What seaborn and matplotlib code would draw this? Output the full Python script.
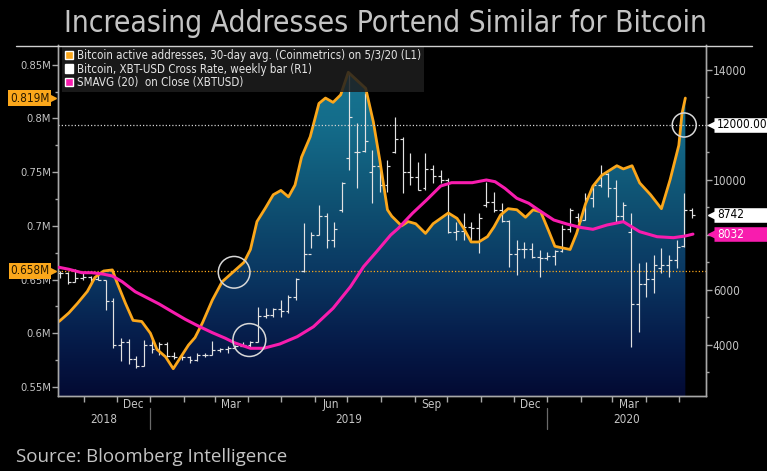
# plot.py
# Bloomberg style chart - active addresses vs bitcoin price (weekly bars)

import numpy as np
import pandas as pd
import seaborn as sns
import matplotlib
matplotlib.use("Agg")
import matplotlib.pyplot as plt
import matplotlib.dates as mdates
import matplotlib.transforms as mtransforms
from matplotlib.colors import LinearSegmentedColormap
from matplotlib.patches import Patch
from matplotlib.lines import Line2D
from matplotlib.ticker import FixedLocator, NullFormatter
from matplotlib import font_manager

# ---- data ----
# bitcoin active addresses, 30 day avg (millions), left axis
addr_dates = ["2018-10-09", "2018-10-18", "2018-10-26", "2018-11-04", "2018-11-11", "2018-11-19",
              "2018-11-27", "2018-12-01", "2018-12-09", "2018-12-16", "2018-12-24", "2019-01-01",
              "2019-01-07", "2019-01-15", "2019-01-22", "2019-01-29", "2019-02-05", "2019-02-11",
              "2019-02-18", "2019-02-27", "2019-03-08", "2019-03-18", "2019-03-28", "2019-04-03",
              "2019-04-09", "2019-04-17", "2019-04-24", "2019-05-01", "2019-05-08", "2019-05-14",
              "2019-05-20", "2019-05-28", "2019-06-05", "2019-06-11", "2019-06-18", "2019-06-25",
              "2019-07-02", "2019-07-18", "2019-07-25", "2019-07-31", "2019-08-07", "2019-08-11",
              "2019-08-20", "2019-08-26", "2019-09-02", "2019-09-11", "2019-09-18", "2019-10-02",
              "2019-10-10", "2019-10-16", "2019-10-23", "2019-10-30", "2019-11-07", "2019-11-13",
              "2019-11-19", "2019-11-26", "2019-12-04", "2019-12-12", "2019-12-19", "2019-12-26",
              "2020-01-02", "2020-01-08", "2020-01-22", "2020-01-28", "2020-02-05", "2020-02-12",
              "2020-02-20", "2020-03-05", "2020-03-11", "2020-03-19", "2020-03-26", "2020-04-05",
              "2020-04-15", "2020-04-23", "2020-05-01", "2020-05-04", "2020-05-07"]
addr_values = [0.611, 0.619, 0.628, 0.639, 0.652, 0.658, 0.659, 0.648, 0.628, 0.612,
               0.611, 0.600, 0.585, 0.578, 0.567, 0.578, 0.589, 0.596, 0.610, 0.631,
               0.648, 0.657, 0.666, 0.678, 0.704, 0.717, 0.729, 0.733, 0.727, 0.738,
               0.764, 0.783, 0.814, 0.819, 0.815, 0.822, 0.843, 0.828, 0.797, 0.761,
               0.715, 0.709, 0.700, 0.704, 0.702, 0.693, 0.702, 0.712, 0.707, 0.698,
               0.685, 0.685, 0.690, 0.699, 0.710, 0.716, 0.715, 0.708, 0.715, 0.713,
               0.696, 0.681, 0.678, 0.693, 0.720, 0.737, 0.747, 0.756, 0.753, 0.756,
               0.740, 0.729, 0.716, 0.743, 0.775, 0.805, 0.819]

# SMAVG(20) on close, right axis
sma_dates = ["2018-10-09", "2018-10-18", "2018-10-30", "2018-11-08", "2018-11-18", "2018-11-27",
             "2018-12-06", "2018-12-18", "2018-12-27", "2019-01-09", "2019-01-21", "2019-02-02",
             "2019-02-14", "2019-02-27", "2019-03-11", "2019-03-19", "2019-04-03", "2019-04-15",
             "2019-04-30", "2019-05-16", "2019-05-31", "2019-06-18", "2019-07-04", "2019-07-16",
             "2019-07-28", "2019-08-10", "2019-08-17", "2019-08-30", "2019-09-12", "2019-09-25",
             "2019-10-05", "2019-10-24", "2019-11-06", "2019-11-14", "2019-11-23", "2019-12-04",
             "2019-12-15", "2019-12-24", "2020-01-07", "2020-01-19", "2020-01-31", "2020-02-12",
             "2020-02-25", "2020-03-11", "2020-03-26", "2020-04-11", "2020-04-26", "2020-05-07",
             "2020-05-14"]
sma_values = [6825, 6753, 6629, 6629, 6582, 6509, 6302, 5938, 5756, 5491, 5211, 4935,
              4691, 4447, 4244, 4084, 3880, 3880, 4036, 4302, 4665, 5335, 6120, 6847,
              7393, 8000, 8244, 8789, 9273, 9782, 9902, 9902, 10000, 9938, 9698, 9335,
              9153, 8909, 8545, 8400, 8280, 8207, 8364, 8484, 8120, 7938, 7902, 7964,
              8032]

# XBT-USD weekly bars, right axis (first bar week of 2018-10-10)
bar_first_week = "2018-10-10"
bar_open = [6600, 6620, 6300, 6450, 6460, 6400, 6350, 5600, 4000, 4100,
            3500, 3250, 4000, 3850, 4050, 3600, 3550, 3550, 3450, 3650,
            3650, 3800, 3850, 3900, 3980, 4000, 4100, 5050, 5100, 5300,
            5250, 5750, 6700, 7300, 8000, 8700, 7800, 8900, 10800, 11000,
            11050, 10300, 10500, 9800, 11000, 11500, 10300, 10100, 9700, 10400,
            10150, 10000, 8100, 8150, 8300, 8250, 9100, 9200, 8900, 8500,
            7300, 7500, 7500, 7200, 7150, 7250, 7400, 8200, 8650, 8550,
            9350, 9800, 10200, 9700, 8700, 8100, 5500, 6200, 6400, 6800,
            6900, 7100, 7600, 8900]
bar_high = [6680, 6660, 6750, 6600, 6500, 6570, 6360, 5700, 4250, 4200,
            3600, 4180, 4250, 4100, 4100, 3750, 3650, 3600, 3700, 3700,
            4150, 3900, 3950, 4000, 4100, 4150, 5390, 5350, 5350, 5640,
            5820, 6440, 8440, 8120, 9090, 8800, 8484, 9938, 13890, 12073,
            13163, 11090, 10727, 10727, 12300, 11575, 10980, 10665, 10970, 10545,
            10364, 10073, 8484, 8800, 8473, 8800, 9938, 9575, 9164, 8545,
            7818, 7756, 7700, 7455, 7393, 7455, 8364, 8982, 8800, 9527,
            9818, 10545, 10242, 10000, 9212, 8800, 6970, 7030, 7273, 7515,
            7273, 7818, 9527, 8982]
bar_low = [6450, 6200, 6300, 6380, 6250, 6360, 5270, 3900, 3400, 3300,
           3160, 3250, 3700, 3650, 3550, 3500, 3450, 3350, 3400, 3550,
           3650, 3750, 3700, 3850, 3950, 3900, 4100, 4980, 5000, 5030,
           5160, 5640, 6665, 7527, 8000, 7527, 7575, 8847, 10364, 9709,
           11030, 9164, 9575, 9575, 10970, 9516, 9818, 9636, 9636, 9890,
           9890, 8073, 7818, 7818, 7818, 7345, 9030, 8847, 8484, 6847,
           6545, 7164, 7150, 6480, 7090, 6909, 7393, 8120, 8484, 8545,
           9030, 9756, 9393, 8484, 8484, 3940, 4484, 5756, 5880, 6607,
           6484, 6790, 7575, 8618]
bar_close = [6620, 6300, 6450, 6460, 6400, 6350, 5600, 4000, 4100, 3500,
             3250, 4000, 3850, 4050, 3600, 3550, 3550, 3450, 3650, 3650,
             3800, 3850, 3900, 3980, 4000, 4100, 5050, 5100, 5300, 5250,
             5750, 6400, 7300, 8000, 8700, 7800, 8200, 9900, 12300, 11000,
             11400, 10500, 9800, 10500, 11500, 10300, 10100, 9650, 10400, 10150,
             10000, 8100, 8150, 8300, 8250, 8600, 9200, 8900, 8500, 7300,
             7500, 7500, 7200, 7150, 7250, 7400, 8200, 8900, 8500, 9350,
             9800, 10200, 9700, 8700, 9100, 5500, 6200, 6400, 6900, 6900,
             7100, 7550, 8900, 8742]

# circled spots and the reference lines
circle_dates = ["2019-03-19", "2019-04-02", "2020-05-06"]
circle_prices = [6644, 4180, 12000]
circle_sizes = [520, 560, 300]
addr_ref = 0.658
price_ref = 12000

# ---- fonts / colours ----
sns.set_theme(style="dark")
names = {f.name for f in font_manager.fontManager.ttflist}
narrow = "Liberation Sans Narrow" if "Liberation Sans Narrow" in names else "DejaVu Sans"
plt.rcParams["font.family"] = [narrow, "DejaVu Sans"]
plt.rcParams["font.stretch"] = "condensed"

orange = "#fba71b"
magenta = "#f81cae"
bar_col = "#e2e2e2"
grey = "#c4c4c4"
spine_col = "#a8a8a8"

addr_x = pd.to_datetime(addr_dates)
sma_x = pd.to_datetime(sma_dates)
week_x = pd.date_range(bar_first_week, periods=len(bar_close), freq="7D")

x_lo, x_hi = pd.Timestamp("2018-10-08"), pd.Timestamp("2020-05-26")
left_lim = (0.5416, 0.8684)
right_lim = (2145, 14909)

fig = plt.figure(figsize=(7.67, 4.71), dpi=100, facecolor="black")
ax = fig.add_axes([58 / 767, 1 - 396 / 471, 648 / 767, 351 / 471])
ax.set_facecolor("black")
ax2 = ax.twinx()
ax.set_xlim(x_lo, x_hi)
ax.set_ylim(*left_lim)
ax2.set_ylim(*right_lim)

# gradient area under the address line
grad = np.linspace(0, 1, 256).reshape(-1, 1)
cmap = LinearSegmentedColormap.from_list("bbg", [(0.0, "#030a33"), (0.16, "#061c4a"), (0.33, "#0a3560"),
                                                 (0.56, "#0f5273"), (0.78, "#146d8b"), (1.0, "#1a7893")])
im = ax.imshow(grad, extent=[mdates.date2num(x_lo), mdates.date2num(x_hi), left_lim[0], left_lim[1]],
               origin="lower", aspect="auto", cmap=cmap, zorder=1)
poly = ax.fill_between(addr_x, addr_values, left_lim[0], facecolor="none", edgecolor="none")
im.set_clip_path(poly.get_paths()[0], transform=ax.transData)
ax.set_xlim(x_lo, x_hi)
ax.set_ylim(*left_lim)

# weekly bars (drawn in ax but with the right axis scale so they sit above the fill)
half = pd.Timedelta(days=2.7)
ax.vlines(week_x, bar_low, bar_high, color=bar_col, lw=0.85, transform=ax2.transData, zorder=3)
ax.hlines(bar_open, week_x - half, week_x, color=bar_col, lw=0.85, transform=ax2.transData, zorder=3)
ax.hlines(bar_close, week_x, week_x + half, color=bar_col, lw=0.85, transform=ax2.transData, zorder=3)

# dotted reference lines
ax.axhline(addr_ref, color=orange, lw=0.9, ls=(0, (1, 1.6)), zorder=2)
ax2.axhline(price_ref, color="#d0d0d0", lw=0.9, ls=(0, (1, 1.6)), zorder=2)

# address line
sns.lineplot(x=addr_x, y=addr_values, ax=ax, color=orange, lw=2.0, zorder=4)
# moving average
sns.lineplot(x=sma_x, y=sma_values, ax=ax2, color=magenta, lw=2.2, zorder=5)

ax2.scatter(pd.to_datetime(circle_dates), circle_prices, s=circle_sizes, facecolors="none",
            edgecolors="#d8d8d8", linewidths=1.1, zorder=6)

ax.set_xlabel("")
ax.set_ylabel("")
ax2.set_ylabel("")

# ---- axes look ----
for a in (ax, ax2):
    for s in a.spines.values():
        s.set_color(spine_col)
        s.set_linewidth(1.0)
    a.spines["top"].set_visible(False)
    a.grid(False)

left_ticks = [0.55, 0.6, 0.65, 0.7, 0.75, 0.8, 0.85]
ax.yaxis.set_major_locator(FixedLocator(left_ticks))
ax.set_yticklabels([f"{v:g}M" for v in left_ticks])
ax.yaxis.set_minor_locator(FixedLocator([v + 0.025 for v in left_ticks]))
ax.tick_params(axis="y", which="major", direction="out", length=4, width=1, color=spine_col,
               labelcolor=grey, labelsize=8, pad=1, left=True)
ax.tick_params(axis="y", which="minor", direction="out", length=2.5, width=1, color=spine_col, left=True)

# 8000 and 12000 are hidden behind the value tags
right_ticks = [4000, 6000, 8000, 10000, 12000, 14000]
ax2.yaxis.set_major_locator(FixedLocator(right_ticks))
ax2.set_yticklabels(["" if v in (8000, 12000) else str(v) for v in right_ticks])
ax2.yaxis.set_minor_locator(FixedLocator([v + 1000 for v in [2000] + right_ticks]))
ax2.tick_params(axis="y", which="major", direction="out", length=4, width=1, color=spine_col,
                labelcolor=grey, labelsize=8.5, pad=1, right=True)
ax2.tick_params(axis="y", which="minor", direction="out", length=2.5, width=1, color=spine_col, right=True)

# months: ticks at the month starts, names in the middle of the month
ax.xaxis.set_major_locator(mdates.MonthLocator())
ax.xaxis.set_major_formatter(NullFormatter())
month_names = ["Dec", "Mar", "Jun", "Sep", "Dec", "Mar"]
month_mid = pd.to_datetime(["2018-12-16", "2019-03-16", "2019-06-16", "2019-09-16", "2019-12-16", "2020-03-16"])
ax.xaxis.set_minor_locator(FixedLocator(mdates.date2num(month_mid)))
ax.set_xticklabels(month_names, minor=True)
ax.tick_params(axis="x", which="major", direction="out", length=4, width=1, color=spine_col, bottom=True)
ax.tick_params(axis="x", which="minor", length=0, labelcolor=grey, labelsize=8.5, pad=1.5, bottom=True)

trans = mtransforms.blended_transform_factory(ax.transData, ax.transAxes)
year_breaks = pd.to_datetime(["2019-01-01", "2020-01-01"])
for d in year_breaks:
    ax.plot([d, d], [-0.035, -0.093], transform=trans, color="#6a6a6a", lw=0.9, clip_on=False)
edges = [x_lo] + list(year_breaks) + [x_hi]
for yr, a, b in zip(["2018", "2019", "2020"], edges[:-1], edges[1:]):
    ax.text(a + (b - a) / 2, -0.066, yr, transform=trans, ha="center", va="center",
            color=grey, fontsize=8.5)

# ---- value tags on the axes ----
rtrans = mtransforms.blended_transform_factory(ax2.transAxes, ax2.transData)
ltrans = mtransforms.blended_transform_factory(ax.transAxes, ax.transData)
right_tags = [(price_ref, "12000.00", "white", "black"),
              (bar_close[-1], str(bar_close[-1]), "white", "black"),
              (sma_values[-1], str(sma_values[-1]), magenta, "white")]
for val, txt, fc, tc in right_tags:
    # the tag box runs to the right edge of the picture
    ax2.plot([1.012, 1.2], [val, val], color=fc, lw=10.5, solid_capstyle="butt",
             transform=rtrans, clip_on=False, zorder=9)
    ax2.plot([1.009], [val], marker="<", ms=5.5, color=fc, transform=rtrans, clip_on=False, zorder=9)
    ax2.text(1.017, val, txt, transform=rtrans, ha="left", va="center", fontsize=8.5, color=tc,
             clip_on=False, zorder=10)

left_tags = [(addr_values[-1], f"{addr_values[-1]:.3f}M"), (addr_ref, f"{addr_ref:.3f}M")]
for val, txt in left_tags:
    ax.text(-0.013, val, txt, transform=ltrans, ha="right", va="center", fontsize=8.5, color="#2a1a00",
            bbox=dict(boxstyle="square,pad=0.15", fc=orange, ec="none"), clip_on=False, zorder=10)
    ax.plot([-0.008], [val], marker=">", ms=5, color=orange, transform=ltrans, clip_on=False, zorder=10)

# legend box top left
handles = [Patch(facecolor=orange), Patch(facecolor="white"), Patch(facecolor=magenta)]
labels = ["Bitcoin active addresses, 30-day avg. (Coinmetrics) on 5/3/20 (L1)",
          "Bitcoin, XBT-USD Cross Rate, weekly bar (R1)",
          "SMAVG (20)  on Close (XBTUSD)"]
leg = ax2.legend(handles, labels, loc="upper left", bbox_to_anchor=(0.006, 0.997), fontsize=8.3,
                 frameon=True, fancybox=False, facecolor="#1e1e1e", edgecolor="none", framealpha=0.85,
                 handlelength=0.75, handleheight=0.75, handletextpad=0.3, labelspacing=0.05,
                 borderpad=0.25, borderaxespad=0.0, labelcolor="#e4e4e4")
leg.set_zorder(20)

# title, rule and source
fig.add_artist(Line2D([16 / 767, 752 / 767], [1 - 45.5 / 471] * 2, color="#d0d0d0", lw=1.0))
fig.text(0.503, 1 - 24 / 471, "Increasing Addresses Portend Similar for Bitcoin", ha="center", va="center",
         color="#c4c4c4", fontsize=21.5)
fig.text(16 / 767, 1 - 457 / 471, "Source: Bloomberg Intelligence", ha="left", va="center",
         color="#c4c4c4", fontsize=13.5, family=["Open Sans", "DejaVu Sans"], fontstretch="normal")

fig.savefig("out.png", dpi=100, facecolor="black")
